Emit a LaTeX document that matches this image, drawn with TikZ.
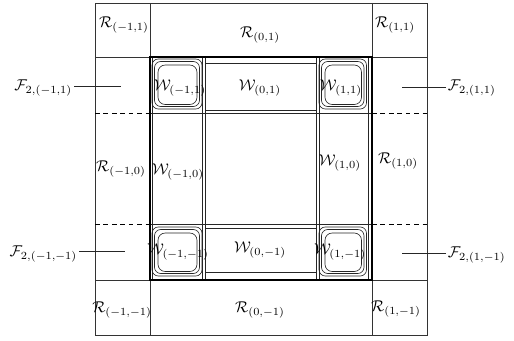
\documentclass[tikz,border=0pt]{standalone}
\usepackage{amsmath}
\begin{document}
\begin{tikzpicture}[x=0.64pt,y=-0.64pt,
  frame/.style={line width=0.45pt,draw=black!80},
  fine/.style={line width=0.4pt,draw=black!85},
  heavy/.style={line width=1.1pt,draw=black},
  dashline/.style={line width=0.45pt,draw=black,dash pattern=on 3pt off 2.4pt},
  corner/.style={line width=0.4pt,draw=black!85,rounded corners=4pt},
  lbl/.style={inner sep=1pt}]
\useasboundingbox (0,0) rectangle (514,341);
% outer frame and outer grid
\draw[frame] (95,3) rectangle (427,335);
\draw[frame] (150,3) -- (150,57) (372,3) -- (372,57) (150,280) -- (150,335) (372,280) -- (372,335);
\draw[frame] (95,57) -- (427,57) (95,280) -- (427,280);
% dashed separators
\draw[dashline] (95,113) -- (150,113) (372,113) -- (427,113) (95,224) -- (150,224) (372,224) -- (427,224);
% inner grid
\draw[fine] (150,113) -- (372,113) (150,224) -- (372,224);
\foreach \xx in {152.5,202.5,205,316,319,368} \draw[fine] (\xx,57) -- (\xx,280);
\draw[fine] (205,63) rectangle (316,110);
\draw[fine] (205,228) rectangle (316,272);
% corner rounded boxes
\foreach \xa/\xb in {152/202,319/366.5} {
  \foreach \ya/\yb in {59/109,227/276} {
    \draw[corner] (\xa,\ya) rectangle (\xb,\yb);
    \draw[corner] (\xa+2.5,\ya+2.5) rectangle (\xb-2.5,\yb-2.5);
    \draw[corner,rounded corners=4.6pt] (\xa+6,\ya+6) rectangle (\xb-5,\yb-4.5);
  }
}
% thick square
\draw[heavy] (150,57) rectangle (372,280);
% R labels
\node[lbl] (rmm1) at (124,25) {$\mathcal{R}_{(-1,1)}$};
\node[lbl] (r01) at (260,35) {$\mathcal{R}_{(0,1)}$};
\node[lbl] (r11) at (395,25) {$\mathcal{R}_{(1,1)}$};
\node[lbl] (rm10) at (121,169) {$\mathcal{R}_{(-1,0)}$};
\node[lbl] (r10) at (398,161) {$\mathcal{R}_{(1,0)}$};
\node[lbl] (rm1m1) at (122,310) {$\mathcal{R}_{(-1,-1)}$};
\node[lbl] (r0m1) at (260,310) {$\mathcal{R}_{(0,-1)}$};
\node[lbl] (r1m1) at (396,309) {$\mathcal{R}_{(1,-1)}$};
% W labels
\node[lbl] (wm11) at (180,88) {$\mathcal{W}_{(-1,1)}$};
\node[lbl] (w01) at (260,88) {$\mathcal{W}_{(0,1)}$};
\node[lbl] (w11) at (341,88) {$\mathcal{W}_{(1,1)}$};
\node[lbl] (wm10) at (178,172) {$\mathcal{W}_{(-1,0)}$};
\node[lbl] (w10) at (340,163) {$\mathcal{W}_{(1,0)}$};
\node[lbl] (wm1m1) at (178,252) {$\mathcal{W}_{(-1,-1)}$};
\node[lbl] (w0m1) at (260,250) {$\mathcal{W}_{(0,-1)}$};
\node[lbl] (w1m1) at (340,252) {$\mathcal{W}_{(1,-1)}$};
% F labels with leader lines
\node[lbl,anchor=east] (fm11) at (74,88) {$\mathcal{F}_{2,(-1,1)}$};
\coordinate (fm11e) at (121,86);
\draw[fine] (fm11.east |- fm11e) -- (fm11e);
\node[lbl,anchor=west] (f11) at (446,88) {$\mathcal{F}_{2,(1,1)}$};
\coordinate (f11e) at (402,87);
\draw[fine] (f11.west |- f11e) -- (f11e);
\node[lbl,anchor=east] (fm1m1) at (79,254) {$\mathcal{F}_{2,(-1,-1)}$};
\coordinate (fm1m1e) at (125,251);
\draw[fine] (fm1m1.east |- fm1m1e) -- (fm1m1e);
\node[lbl,anchor=west] (f1m1) at (446,255) {$\mathcal{F}_{2,(1,-1)}$};
\coordinate (f1m1e) at (402,253);
\draw[fine] (f1m1.west |- f1m1e) -- (f1m1e);
\end{tikzpicture}
\end{document}
